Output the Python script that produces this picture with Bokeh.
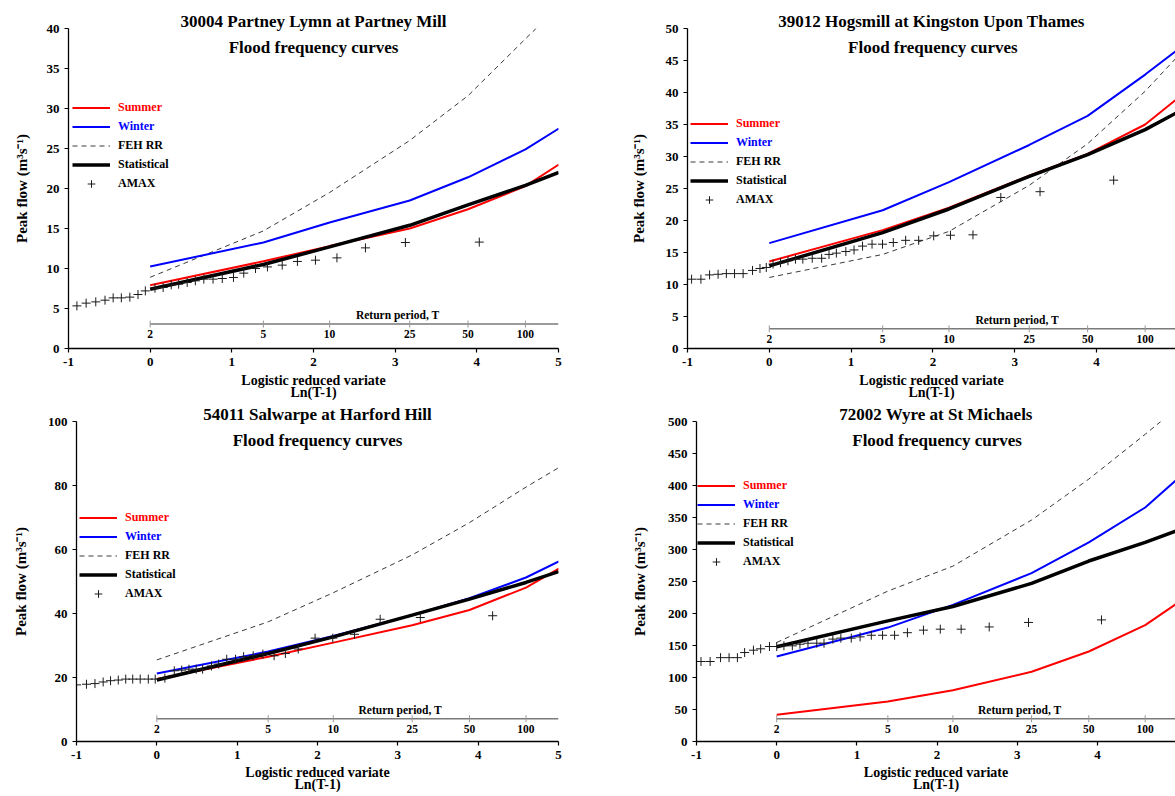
import numpy as np
from bokeh.plotting import figure
from bokeh.layouts import column, row
from bokeh.models import Legend, LegendItem, Label, FixedTicker, Range1d, Title
from bokeh.embed import file_html
from bokeh.resources import INLINE
from bokeh.core.properties import value

FONT = "Liberation Serif"

RETURN_PERIODS = [2, 5, 10, 25, 50, 100]
CURVE_T = [2, 5, 10, 25, 50, 100, 150]
X_TICKS = [-1, 0, 1, 2, 3, 4, 5]
SUBTITLE = "Flood frequency curves"
X_TITLE = "Logistic reduced variate\nLn(T-1)"
Y_TITLE = "Peak flow (m³s⁻¹)"
RP_TITLE = "Return period, T"
LEGEND_LABELS = ["Summer", "Winter", "FEH RR", "Statistical", "AMAX"]

# ---- Panel 1: 30004 Partney Lymn at Partney Mill
P1_TITLE = "30004 Partney Lymn at Partney Mill"
P1_Y_TICKS = [0, 5, 10, 15, 20, 25, 30, 35, 40]
P1_SUMMER = [7.9, 10.9, 12.8, 15.0, 17.4, 20.3, 23.0]
P1_WINTER = [10.25, 13.25, 15.75, 18.5, 21.4, 24.9, 27.5]
P1_FEH = [8.9, 14.7, 19.5, 26.0, 31.6, 38.7, 42.8]
P1_STAT = [7.4, 10.5, 12.7, 15.4, 17.95, 20.4, 22.0]
P1_AMAX_X = [-0.897, -0.784, -0.666, -0.553, -0.453, -0.353, -0.249, -0.149, -0.059,
             0.059, 0.159, 0.258, 0.349, 0.453, 0.553, 0.657, 0.77, 0.883, 1.02,
             1.146, 1.29, 1.436, 1.617, 1.803, 2.024, 2.287, 2.636, 3.125, 4.03]
P1_AMAX_Y = [5.33, 5.67, 5.83, 6.04, 6.33, 6.33, 6.42, 6.75, 7.2,
             7.54, 7.63, 7.96, 8.04, 8.25, 8.46, 8.67, 8.67, 8.75, 8.88,
             9.42, 10.0, 10.2, 10.42, 10.88, 11.04, 11.33, 12.58, 13.25, 13.3]

# ---- Panel 2: 39012 Hogsmill at Kingston Upon Thames
P2_TITLE = "39012 Hogsmill at Kingston Upon Thames"
P2_Y_TICKS = [0, 5, 10, 15, 20, 25, 30, 35, 40, 45, 50]
P2_SUMMER = [13.6, 18.5, 22.0, 27.0, 30.4, 35.0, 39.2]
P2_WINTER = [16.46, 21.6, 26.0, 31.8, 36.35, 42.8, 46.8]
P2_FEH = [11.1, 14.7, 18.3, 25.5, 32.0, 40.2, 45.8]
P2_STAT = [12.9, 18.1, 21.8, 26.9, 30.3, 34.2, 37.0]
P2_AMAX_X = [-0.95, -0.836, -0.73, -0.626, -0.525, -0.425, -0.32, -0.205, -0.114, -0.037,
             0.046, 0.137, 0.228, 0.32, 0.41, 0.525, 0.64, 0.73, 0.82, 0.936, 1.036,
             1.14, 1.256, 1.384, 1.516, 1.667, 1.826, 2.01, 2.215, 2.49, 2.83, 3.31, 4.21]
P2_AMAX_Y = [10.83, 10.83, 11.5, 11.6, 11.7, 11.7, 11.7, 12.2, 12.5, 12.66,
             13.2, 13.4, 13.7, 13.96, 13.96, 14.1, 14.1, 14.7, 14.9, 15.15, 15.4,
             16.0, 16.3, 16.3, 16.56, 16.9, 16.9, 17.6, 17.7, 17.76, 23.6, 24.5, 26.3]

# ---- Panel 3: 54011 Salwarpe at Harford Hill
P3_TITLE = "54011 Salwarpe at Harford Hill"
P3_Y_TICKS = [0, 20, 40, 60, 80, 100]
P3_SUMMER = [19.5, 26.5, 30.9, 36.35, 41.1, 48.1, 54.0]
P3_WINTER = [21.25, 28.1, 33.0, 39.5, 44.8, 51.25, 56.25]
P3_FEH = [25.5, 37.4, 46.5, 58.3, 68.4, 79.5, 85.6]
P3_STAT = [19.2, 27.5, 32.7, 39.5, 44.5, 49.7, 53.1]
P3_AMAX_X = [-1.0, -0.876, -0.77, -0.668, -0.576, -0.48, -0.387, -0.3, -0.207, -0.106, -0.02,
             0.1, 0.217, 0.31, 0.4, 0.49, 0.57, 0.68, 0.77, 0.87, 0.98, 1.08, 1.2, 1.32,
             1.46, 1.6, 1.76, 1.97, 2.19, 2.46, 2.78, 3.28, 4.18]
P3_AMAX_Y = [17.7, 17.9, 18.1, 18.6, 19.0, 19.2, 19.5, 19.5, 19.5, 19.5, 19.5,
             19.8, 22.1, 22.3, 22.6, 22.6, 22.6, 23.6, 24.2, 25.7, 25.7, 26.5, 26.8, 27.3,
             26.8, 27.5, 28.9, 32.3, 32.3, 33.5, 38.2, 38.75, 39.3]

# ---- Panel 4: 72002 Wyre at St Michaels
P4_TITLE = "72002 Wyre at St Michaels"
P4_Y_TICKS = [0, 50, 100, 150, 200, 250, 300, 350, 400, 450, 500]
P4_SUMMER = [41.7, 62.5, 80.2, 108.9, 140.6, 181.8, 217.0]
P4_WINTER = [132.8, 178.0, 213.5, 263.0, 311.0, 365.6, 411.0]
P4_FEH = [154.7, 235.0, 274.0, 346.0, 410.0, 480.0, 522.0]
P4_STAT = [148.0, 188.5, 211.0, 247.0, 282.0, 311.0, 330.0]
P4_AMAX_X = [-0.944, -0.83, -0.7, -0.594, -0.49, -0.4, -0.29, -0.2, -0.09, 0.0,
             0.09, 0.195, 0.29, 0.39, 0.5, 0.59, 0.7, 0.8, 0.93, 1.04, 1.18, 1.32,
             1.47, 1.63, 1.83, 2.04, 2.3, 2.65, 3.14, 4.05]
P4_AMAX_Y = [125, 125, 131, 131, 131, 139, 142.7, 144.8, 148.4, 148.4,
             149.5, 149.5, 152, 153.6, 153.6, 153.6, 160, 161.5, 161.5, 163.5, 166, 166,
             166, 170, 174, 175.5, 175.5, 179, 186, 190]


def style_axis(ax):
    ax.axis_line_color = "black"
    ax.axis_line_width = 1.3
    ax.major_tick_line_color = "black"
    ax.major_tick_line_width = 1.2
    ax.major_tick_in = 0
    ax.major_tick_out = 4
    ax.minor_tick_line_color = None
    ax.major_label_text_font = FONT
    ax.major_label_text_font_style = "bold"
    ax.major_label_text_font_size = "13px"
    ax.major_label_text_color = "black"
    ax.major_label_standoff = 5
    ax.axis_label_text_font = FONT
    ax.axis_label_text_font_style = "bold"
    ax.axis_label_text_color = "black"


def make_panel(title, y_ticks, summer, winter, feh, stat, ax_x, ax_y,
               x_end, frame_w, b_left, b_right, b_top, b_bottom, rp_y, leg_x, leg_y0,
               ylab_standoff, xlab_standoff):
    y_max = y_ticks[-1]
    p = figure(frame_width=frame_w, frame_height=320,
               x_range=Range1d(-1, x_end), y_range=Range1d(0, y_max),
               output_backend="svg", toolbar_location=None, title=None,
               min_border_left=b_left, min_border_right=b_right,
               min_border_top=b_top, min_border_bottom=b_bottom)
    p.outline_line_color = None
    p.background_fill_color = "white"
    p.border_fill_color = "white"
    p.xgrid.visible = False
    p.ygrid.visible = False
    p.xaxis.ticker = FixedTicker(ticks=X_TICKS)
    p.yaxis.ticker = FixedTicker(ticks=y_ticks)
    style_axis(p.xaxis[0])
    style_axis(p.yaxis[0])
    p.xaxis.major_label_overrides = {t: str(t) for t in X_TICKS}
    p.yaxis.axis_label = Y_TITLE
    p.yaxis.axis_label_text_font_size = "15px"
    p.yaxis.axis_label_standoff = ylab_standoff
    p.xaxis.axis_label = X_TITLE
    p.xaxis.axis_label_text_font_size = "14px"
    p.xaxis.axis_label_text_line_height = 0.85
    p.xaxis.axis_label_standoff = xlab_standoff

    p.add_layout(Title(text=title, align="center", text_font=FONT, text_font_style="bold",
                       text_font_size="17px", text_color="black", standoff=-4), "above")

    cx = np.log(np.array(CURVE_T, dtype=float) - 1.0)
    r_feh = p.line(cx, feh, line_color="#3a3a3a", line_width=1, line_dash="5 4")
    r_sum = p.line(cx, summer, line_color="#FF0000", line_width=2)
    r_win = p.line(cx, winter, line_color="#0000FF", line_width=2)
    r_stat = p.line(cx, stat, line_color="black", line_width=3.5)
    r_amax = p.scatter(ax_x, ax_y, marker="cross", size=9, line_color="#1a1a1a", line_width=1)

    # secondary "return period" scale drawn inside the plot
    rx = np.log(np.array(RETURN_PERIODS, dtype=float) - 1.0)
    ry = [rp_y] * len(rx)
    p.line([rx[0], X_TICKS[-1]], [rp_y, rp_y], line_color="#7a7a7a", line_width=1.5)
    p.scatter(rx, ry, marker="dash", angle=np.pi / 2, size=7, line_color="#999999", line_width=1)
    p.text(rx, ry, text=[str(t) for t in RETURN_PERIODS], text_align="center",
           text_baseline="middle", y_offset=10, text_font=value(FONT),
           text_font_style="bold", text_font_size="11.5px", text_color="black")
    p.text([3.03], [rp_y], text=[RP_TITLE], text_align="center", text_baseline="middle",
           y_offset=-9, text_font=value(FONT), text_font_style="bold",
           text_font_size="11.5px", text_color="black")

    p.add_layout(Label(x=2, y=301, x_units="data", y_units="screen", text=SUBTITLE,
                       text_align="center", text_baseline="middle", text_font=FONT,
                       text_font_style="bold", text_font_size="17px", text_color="black"))

    # legend (one legend per entry to colour the labels individually)
    entries = [(r_sum, "#FF0000"), (r_win, "#0000FF"), (r_feh, "black"),
               (r_stat, "black"), (r_amax, "black")]
    for i, ((r, col), lab) in enumerate(zip(entries, LEGEND_LABELS)):
        yc = leg_y0 - i * 19.2
        lg = Legend(items=[LegendItem(label=lab, renderers=[r])],
                    location=(leg_x, yc - 9.5), orientation="vertical",
                    padding=0, margin=0, spacing=0, glyph_width=38, glyph_height=19,
                    label_height=19, label_standoff=8,
                    border_line_color=None, background_fill_alpha=0,
                    label_text_font=FONT, label_text_font_style="bold",
                    label_text_font_size="12px", label_text_color=col,
                    label_text_baseline="middle")
        p.add_layout(lg)
    return p


p1 = make_panel(P1_TITLE, P1_Y_TICKS, P1_SUMMER, P1_WINTER, P1_FEH, P1_STAT, P1_AMAX_X, P1_AMAX_Y,
                x_end=5.0, frame_w=490, b_left=68, b_right=10, b_top=28, b_bottom=56,
                rp_y=3.05, leg_x=4, leg_y0=241, ylab_standoff=14, xlab_standoff=4)
p2 = make_panel(P2_TITLE, P2_Y_TICKS, P2_SUMMER, P2_WINTER, P2_FEH, P2_STAT, P2_AMAX_X, P2_AMAX_Y,
                x_end=4.966, frame_w=488, b_left=119, b_right=0, b_top=28, b_bottom=56,
                rp_y=3.08, leg_x=3, leg_y0=225, ylab_standoff=16, xlab_standoff=4)
p3 = make_panel(P3_TITLE, P3_Y_TICKS, P3_SUMMER, P3_WINTER, P3_FEH, P3_STAT, P3_AMAX_X, P3_AMAX_Y,
                x_end=5.0, frame_w=482, b_left=76, b_right=10, b_top=17, b_bottom=55,
                rp_y=7.1, leg_x=3, leg_y0=224, ylab_standoff=16, xlab_standoff=3)
p4 = make_panel(P4_TITLE, P4_Y_TICKS, P4_SUMMER, P4_WINTER, P4_FEH, P4_STAT, P4_AMAX_X, P4_AMAX_Y,
                x_end=4.973, frame_w=479, b_left=128, b_right=0, b_top=17, b_bottom=55,
                rp_y=35.5, leg_x=1, leg_y0=256, ylab_standoff=17, xlab_standoff=3)

layout = column(row(p1, p2), row(p3, p4))
open("out.html", "w").write(file_html(layout, INLINE))
